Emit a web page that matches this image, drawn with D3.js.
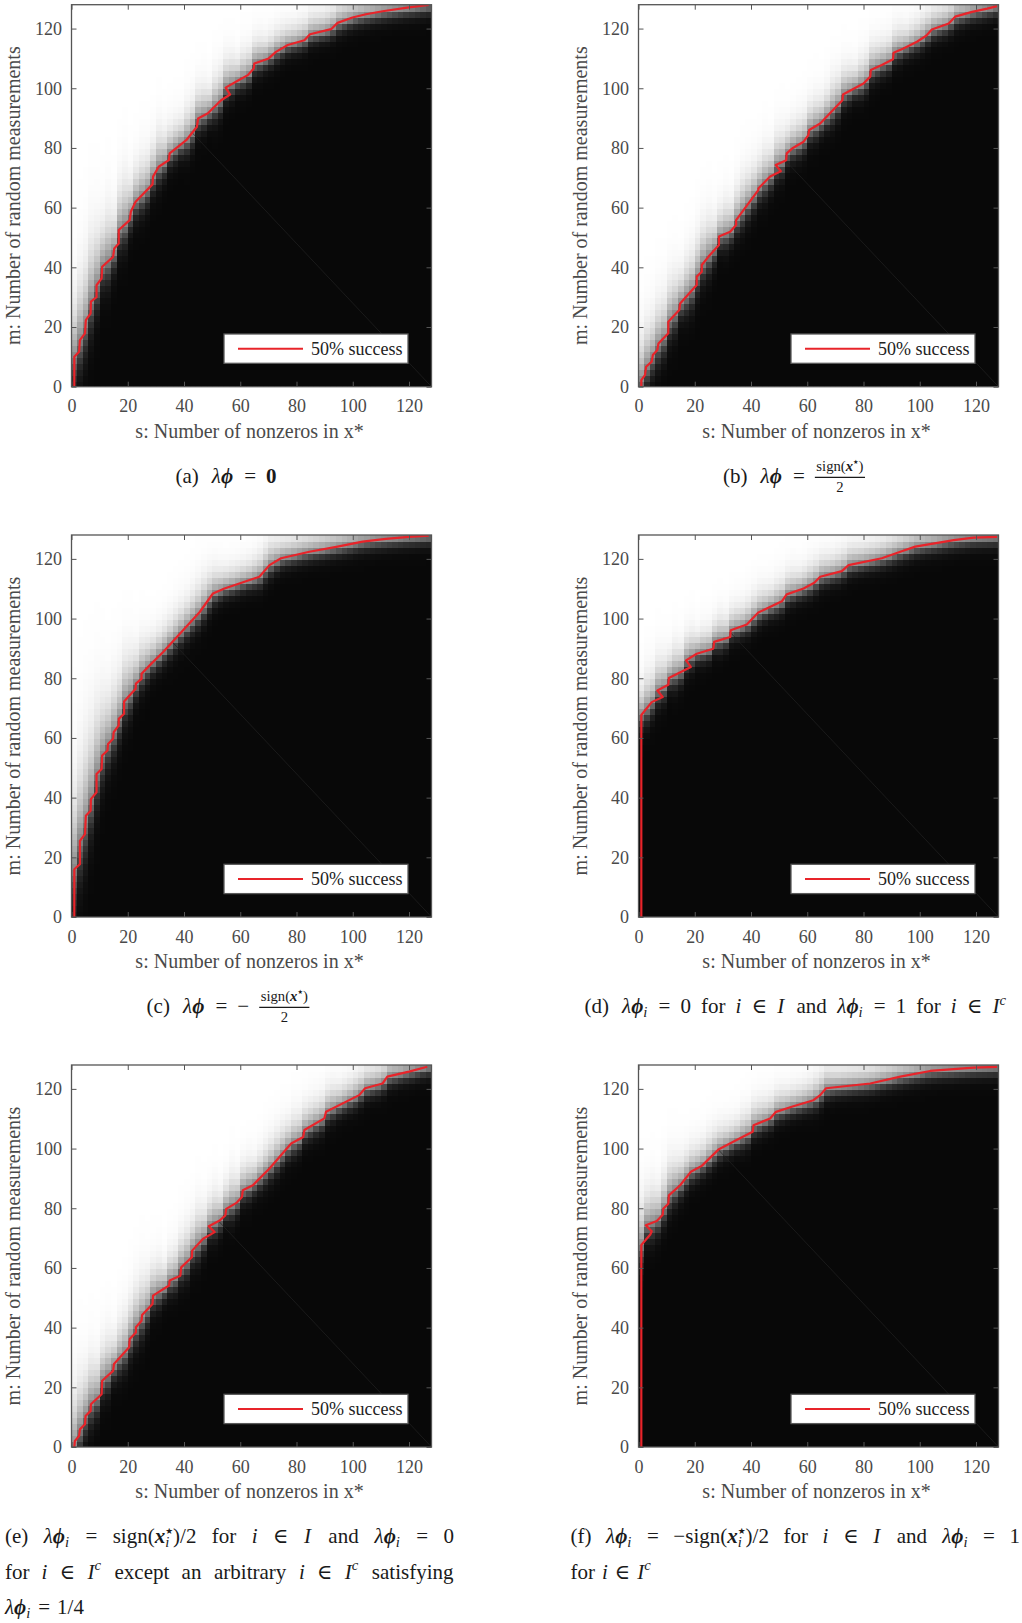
<!DOCTYPE html>
<html>
<head>
<meta charset="utf-8">
<script src="https://cdn.jsdelivr.net/npm/d3@7"></script>
<style>
  body { margin: 0; background: #fff; }
  svg text { font-family: "Liberation Serif", "Times New Roman", "DejaVu Serif", serif; }
</style>
</head>
<body>
<svg id="fig" width="1022" height="1623"></svg>
<script>
// ---- data ----
const sTicks = [0, 20, 40, 60, 80, 100, 120];
const mTicks = [0, 20, 40, 60, 80, 100, 120];
const legendLabel = "50% success";

// 50% success contour, [s, m] vertices, one list per panel
const boundaryA = [[1,0],[1,10],[2.7,11.7],[3,15.6],[4.8,17.9],[5.1,22.3],[6.8,24.6],[6.9,28.5],[8.9,30],[8.9,34],[10.7,36.3],[10.9,40.2],[14.8,43.5],[15.2,46.3],[16.8,48],[16.8,52.5],[20.7,55.8],[21.1,58.6],[22.8,62],[28.8,67.8],[29,70.4],[31,73.7],[34.6,75.9],[34.9,78.2],[40.8,82.6],[44.6,87.1],[45,89.9],[48.5,91.6],[53.2,96],[56.4,97.9],[54.8,100.2],[59.4,102.7],[62.7,104.4],[64.8,106.6],[65,108.3],[70.1,110],[72.7,112.2],[76.9,114.5],[82.8,116.1],[84.8,118.1],[92.3,119.8],[94.6,121.9],[99.9,123.7],[104.7,124.8],[110.6,125.8],[120,127.1],[127,127.9]];
const boundaryB = [[1,0],[1,2.2],[2.3,3.9],[2.7,6.7],[4.7,8.4],[5.1,10.6],[6.7,12.3],[7.1,14.5],[10.6,17.9],[10.6,21.8],[14.5,25.7],[14.8,27.9],[20.7,34.1],[20.7,36.9],[22.5,38.5],[22.5,40.8],[24.9,43.6],[28.6,47.5],[28.6,50.3],[32.6,51.9],[34.7,54.2],[34.7,55.8],[42.6,65.9],[42.6,66.4],[46.8,70.4],[50.6,72.2],[48.8,74.3],[52.5,75.9],[52.7,78.2],[54.9,80],[58.7,82.1],[60.4,84.3],[60.7,86],[64.6,88.2],[72.5,96],[72.7,97.9],[80,101.6],[82.4,103.9],[82.6,106.1],[86.5,107.8],[90.5,109.7],[90.7,111.9],[94.2,113.3],[99,115.6],[102.3,117.6],[104.3,119.7],[110.3,121.7],[112.6,124],[118.6,125.6],[124,126.7],[127.5,127.5]];
const boundaryC = [[1,0],[1,16],[3,17.7],[3,25.5],[4.8,27.8],[5.1,33.9],[6.8,35.6],[6.9,39.5],[8.9,41.8],[8.9,47.9],[10.7,49.6],[10.9,54.1],[12.8,55.8],[13,58],[14.8,59.7],[15,61.9],[16.8,64.2],[16.8,66.4],[18.7,68.1],[18.7,72.2],[22.8,76.5],[22.9,78.2],[24.9,79.8],[24.9,81.5],[28.4,84.9],[32.6,88.8],[39.1,95.5],[45.6,102.2],[50.3,108.4],[54.4,110.1],[66.8,114],[70.4,117.9],[74.5,120.2],[84.6,122.4],[94.6,124.1],[103.5,125.8],[111.8,126.7],[120,127.4],[127,127.8]];
const boundaryD = [[1,0],[1,67.7],[4.7,72],[8.6,73.7],[6.7,75.9],[10.6,77.8],[10.8,80.1],[18.6,83.8],[16.9,86],[20.7,88.2],[26.6,89.9],[26.9,92.2],[32.6,93.8],[32.8,96.1],[38.5,98],[42.6,102],[51,105.8],[52.7,108.1],[58.7,110.1],[62.5,112],[64.6,114],[72.3,115.9],[74.7,117.9],[86.5,120.2],[93.1,122.4],[98.4,124.1],[112.1,126.3],[119.2,127.1],[127.5,127.4]];
const boundaryE = [[1,0],[1.2,2],[2.7,3.7],[3,5.9],[4.8,7.6],[5,10.4],[6.8,12.1],[6.9,14.3],[10.7,17.7],[10.9,22.2],[14.8,25.5],[15.1,27.8],[20.5,33.4],[20.7,36.2],[22.9,38.4],[22.9,40.1],[24.9,42.3],[25.1,44.2],[28.8,47.9],[29,50.7],[30.8,51.8],[34.7,54.1],[34.9,55.8],[38.7,57.4],[39,60.2],[42.8,63.6],[42.9,65.8],[46.8,69.8],[50.9,72],[48.8,74],[52.7,75.9],[54.7,77.6],[55,79.8],[58.8,81.9],[60.6,83.8],[60.9,86],[64.5,87.7],[70.4,93.3],[78.1,101.7],[82.4,103.9],[82.8,106.2],[89.9,110.1],[90.5,112.3],[102.3,117.9],[104.4,120.2],[110.6,121.8],[112.3,124.1],[120,125.8],[126.5,127.4]];
const boundaryF = [[1,0],[1,67.7],[4.2,71.2],[4.7,72.3],[2.6,74.3],[6.5,75.7],[8.6,77.8],[8.8,79.8],[10.6,81.5],[10.8,84.3],[14.8,87.7],[18.6,92.2],[22.5,94.2],[28.6,99.8],[34.7,102.8],[40.6,105.6],[40.9,107.8],[46.8,110.1],[48.9,112.3],[54.5,114],[62.2,116.2],[64.6,117.9],[66.7,120.2],[82.4,121.8],[93.1,124.1],[103.7,126],[119.2,127.1],[127.5,127.4]];

// width of the grey transition band (data units), on the success side and on the failure side
const bandUp = 2.7;
const bandDown = 1.4;

// captions ({i:..} italic, {bi:..} bold italic, {b:..} bold, {sub:..}, {sup:..}, {star:..}, {sstar:..})
const frac = { num: "sign({bi:x}{star:★})", den: "2" };
const captionA = [["(a)", "{i:λ}{bi:ϕ}", "=", "{b:0}"]];
const captionB = [["(b)", "{i:λ}{bi:ϕ}", "=", frac]];
const captionC = [["(c)", "{i:λ}{bi:ϕ}", "=", "−", frac]];
const captionD = [["(d)", "{i:λ}{bi:ϕ}{sub:i}", "=", "0", "for", "{i:i}", "∈", "{i:I}", "and", "{i:λ}{bi:ϕ}{sub:i}", "=", "1", "for", "{i:i}", "∈", "{i:I}{sup:c}"]];
const captionE = [
  ["(e)", "{i:λ}{bi:ϕ}{sub:i}", "=", "sign({bi:x}{sub:i}{sstar:★})/2", "for", "{i:i}", "∈", "{i:I}", "and", "{i:λ}{bi:ϕ}{sub:i}", "=", "0"],
  ["for", "{i:i}", "∈", "{i:I}{sup:c}", "except", "an", "arbitrary", "{i:i}", "∈", "{i:I}{sup:c}", "satisfying"],
  ["{i:λ}{bi:ϕ}{sub:i}", "=", "1/4"]
];
const captionF = [
  ["(f)", "{i:λ}{bi:ϕ}{sub:i}", "=", "−sign({bi:x}{sub:i}{sstar:★})/2", "for", "{i:i}", "∈", "{i:I}", "and", "{i:λ}{bi:ϕ}{sub:i}", "=", "1"],
  ["for", "{i:i}", "∈", "{i:I}{sup:c}"]
];

// ---- layout ----
const colLeft = [71.5, 638.5];
const rowTop = [4.7, 535, 1065];
const plotW = 360, plotH = 382;
const axisColor = "#555";

const panels = [
  { key: "a", boundary: boundaryA, col: 0, row: 0, caption: captionA, mode: "center", cx: 226, base: 483 },
  { key: "b", boundary: boundaryB, col: 1, row: 0, caption: captionB, mode: "center", cx: 794, base: 483 },
  { key: "c", boundary: boundaryC, col: 0, row: 1, caption: captionC, mode: "center", cx: 228, base: 1013 },
  { key: "d", boundary: boundaryD, col: 1, row: 1, caption: captionD, mode: "center", cx: 796, base: 1013 },
  { key: "e", boundary: boundaryE, col: 0, row: 2, caption: captionE, mode: "justify", left: 5, right: 454, base: 1543 },
  { key: "f", boundary: boundaryF, col: 1, row: 2, caption: captionF, mode: "justify", left: 570.5, right: 1020, base: 1543 }
];

const svg = d3.select("#fig");
const cellCenters = d3.range(1, 128, 2);
const grey = d3.scaleLinear().domain([0, 1]).range(["#080808", "#ffffff"]);

// highest m of the contour at a given s
function curveAt(pts, s) {
  let best = null;
  for (let k = 0; k < pts.length - 1; k++) {
    const [s0, m0] = pts[k], [s1, m1] = pts[k + 1];
    if (s < Math.min(s0, s1) || s > Math.max(s0, s1)) continue;
    const m = s1 === s0 ? Math.max(m0, m1) : m0 + (m1 - m0) * (s - s0) / (s1 - s0);
    if (best === null || m > best) best = m;
  }
  if (best === null) best = s < pts[0][0] ? pts[0][1] : pts[pts.length - 1][1];
  return best;
}

function drawPanel(p) {
  const x0 = colLeft[p.col], y0 = rowTop[p.row];
  const g = svg.append("g").attr("transform", `translate(${x0},${y0})`);
  const x = d3.scaleLinear().domain([0, 128]).range([0, plotW]);
  const y = d3.scaleLinear().domain([0, 128]).range([plotH, 0]);

  const clipId = "clip-" + p.key;
  g.append("clipPath").attr("id", clipId)
    .append("rect").attr("width", plotW).attr("height", plotH);
  const body = g.append("g").attr("clip-path", `url(#${clipId})`);

  // success probability cells
  const cells = [];
  cellCenters.forEach(s => {
    const b = curveAt(p.boundary, s);
    const lo = Math.max(1, s - 4), hi = Math.min(127, s + 4);
    const sl = (curveAt(p.boundary, hi) - curveAt(p.boundary, lo)) / (hi - lo);
    const k = Math.sqrt(1 + sl * sl);
    cellCenters.forEach(m => {
      const d = (m - b) / k;
      const w = d > 0 ? bandUp : bandDown;
      cells.push({ s: s, m: m, p: 1 / (1 + Math.exp(-d / w)) });
    });
  });
  body.append("g").attr("shape-rendering", "crispEdges")
    .selectAll("rect.cell")
    .data(cells)
    .join("rect")
    .attr("class", "cell")
    .attr("x", d => x(d.s - 1))
    .attr("y", d => y(d.m + 1))
    .attr("width", d => x(d.s + 1) - x(d.s - 1) + 1)
    .attr("height", d => y(d.m - 1) - y(d.m + 1) + 1)
    .attr("fill", d => grey(d.p));

  // faint s + m = 128 line, only visible in the failure region
  const last = p.boundary[p.boundary.length - 1];
  const below = p.boundary.concat([[128, last[1]], [128, 0]]);
  const diagId = "diag-" + p.key;
  g.append("clipPath").attr("id", diagId)
    .append("polygon")
    .attr("points", below.map(d => x(d[0]) + "," + y(d[1])).join(" "));
  body.append("line")
    .attr("clip-path", `url(#${diagId})`)
    .attr("x1", x(0)).attr("y1", y(128))
    .attr("x2", x(128)).attr("y2", y(0))
    .attr("stroke", "#222")
    .attr("stroke-width", 0.7);

  // contour
  const line = d3.line().x(d => x(d[0])).y(d => y(d[1]));
  body.append("path")
    .datum(p.boundary)
    .attr("d", line)
    .attr("fill", "none")
    .attr("stroke", "#e8242a")
    .attr("stroke-width", 2.2)
    .attr("stroke-linejoin", "round");

  // axes, MATLAB style: inward ticks on all sides
  const styleAxis = a => {
    a.attr("color", axisColor).attr("font-size", 18)
      .attr("font-family", "'Liberation Serif', 'Times New Roman', serif");
    a.select(".domain").remove();
  };
  g.append("g").attr("transform", `translate(0,${plotH})`)
    .call(d3.axisBottom(x).tickValues(sTicks).tickSizeInner(-5).tickSizeOuter(0))
    .call(styleAxis)
    .call(a => a.selectAll("text").attr("y", 25.5).attr("dy", 0).attr("fill", "#4a4a4a"));
  g.append("g")
    .call(d3.axisTop(x).tickValues(sTicks).tickSizeInner(-5).tickSizeOuter(0).tickFormat(""))
    .call(styleAxis);
  g.append("g")
    .call(d3.axisLeft(y).tickValues(mTicks).tickSizeInner(-5).tickSizeOuter(0))
    .call(styleAxis)
    .call(a => a.selectAll("text").attr("x", -9.5).attr("dy", "0.33em").attr("fill", "#4a4a4a"));
  g.append("g").attr("transform", `translate(${plotW},0)`)
    .call(d3.axisRight(y).tickValues(mTicks).tickSizeInner(-5).tickSizeOuter(0).tickFormat(""))
    .call(styleAxis);

  g.append("rect")
    .attr("width", plotW).attr("height", plotH)
    .attr("fill", "none").attr("stroke", axisColor).attr("stroke-width", 1.3);

  // legend
  const lw = 184, lh = 29.3;
  const leg = g.append("g").attr("transform", `translate(${plotW - 23.5 - lw},${plotH - 23.4 - lh})`);
  leg.append("rect").attr("width", lw).attr("height", lh)
    .attr("fill", "#fff").attr("stroke", "#5a5a5a").attr("stroke-width", 1.3);
  leg.append("line").attr("x1", 14).attr("x2", 79).attr("y1", lh / 2).attr("y2", lh / 2)
    .attr("stroke", "#e8242a").attr("stroke-width", 2);
  leg.append("text").attr("x", 87).attr("y", lh / 2 + 6)
    .attr("font-size", 18).attr("fill", "#222").text(legendLabel);

  // axis titles
  g.append("text")
    .attr("x", plotW / 2 - 2).attr("y", plotH + 51)
    .attr("text-anchor", "middle").attr("font-size", 20).attr("fill", "#4a4a4a")
    .text("s: Number of nonzeros in x*");
  g.append("text")
    .attr("transform", `translate(${-51.5},${plotH / 2}) rotate(-90)`)
    .attr("text-anchor", "middle").attr("font-size", 20).attr("fill", "#4a4a4a")
    .text("m: Number of random measurements");

  drawCaption(p);
}

// ---- caption text with a bit of math markup ----
function parseRich(str) {
  const re = /\{(\w+):([^}]*)\}|([^{]+)/g;
  const out = [];
  let mm;
  while ((mm = re.exec(str))) {
    out.push(mm[3] !== undefined ? { k: "r", t: mm[3] } : { k: mm[1], t: mm[2] });
  }
  return out;
}

function richText(g, str, fs) {
  const t = g.append("text").attr("font-size", fs).attr("fill", "#1a1a1a");
  let base = 0, prev = null;
  parseRich(str).forEach(seg => {
    const ts = t.append("tspan").text(seg.t);
    let target = 0;
    if (seg.k === "i") ts.attr("font-style", "italic");
    if (seg.k === "b") ts.attr("font-weight", "bold");
    if (seg.k === "bi") ts.attr("font-style", "italic").attr("font-weight", "bold");
    if (seg.k === "sub") { ts.attr("font-style", "italic").attr("font-size", fs * 0.7); target = fs * 0.2; }
    if (seg.k === "sup") { ts.attr("font-style", "italic").attr("font-size", fs * 0.7); target = -fs * 0.4; }
    if (seg.k === "star" || seg.k === "sstar") {
      ts.attr("font-size", fs * 0.42).style("font-family", "'DejaVu Sans', sans-serif");
      target = -fs * 0.45;
      if (seg.k === "sstar" && prev) ts.attr("dx", -prev.node().getComputedTextLength());
    }
    if (target !== base) ts.attr("dy", target - base);
    base = target;
    prev = ts;
  });
  return t;
}

function wordNode(g, w, fs) {
  const wg = g.append("g");
  if (typeof w === "string") {
    richText(wg, w, fs);
  } else {
    const nfs = fs * 0.7;
    const num = richText(wg, w.num, nfs);
    const den = richText(wg, w.den, nfs);
    const nw = num.node().getComputedTextLength();
    const dw = den.node().getComputedTextLength();
    const width = Math.max(nw, dw) + 3;
    num.attr("x", (width - nw) / 2).attr("y", -fs * 0.58);
    den.attr("x", (width - dw) / 2).attr("y", fs * 0.42);
    wg.append("line").attr("x1", 0).attr("x2", width)
      .attr("y1", -fs * 0.27).attr("y2", -fs * 0.27)
      .attr("stroke", "#1a1a1a").attr("stroke-width", 1.1);
  }
  return wg;
}

function drawCaption(p) {
  const fs = 21, lineGap = 35.5, gap = fs * 0.48;
  p.caption.forEach((words, li) => {
    const lg = svg.append("g");
    const nodes = words.map(w => wordNode(lg, w, fs));
    const widths = nodes.map(n => n.node().getBBox().width);
    const total = d3.sum(widths);
    const yb = p.base + li * lineGap;
    let pos, step;
    if (p.mode === "center") {
      const extra = gap * 0.3;
      const full = total + gap * (words.length - 1) + extra;
      pos = p.cx - full / 2;
      nodes.forEach((n, i) => {
        n.attr("transform", `translate(${pos},${yb})`);
        pos += widths[i] + gap + (i === 0 ? extra : 0);
      });
    } else {
      const lastLine = li === p.caption.length - 1;
      step = lastLine ? fs * 0.33 : (p.right - p.left - total) / (words.length - 1);
      pos = p.left;
      nodes.forEach((n, i) => {
        n.attr("transform", `translate(${pos},${yb})`);
        pos += widths[i] + step;
      });
    }
  });
}

panels.forEach(drawPanel);
</script>
</body>
</html>
